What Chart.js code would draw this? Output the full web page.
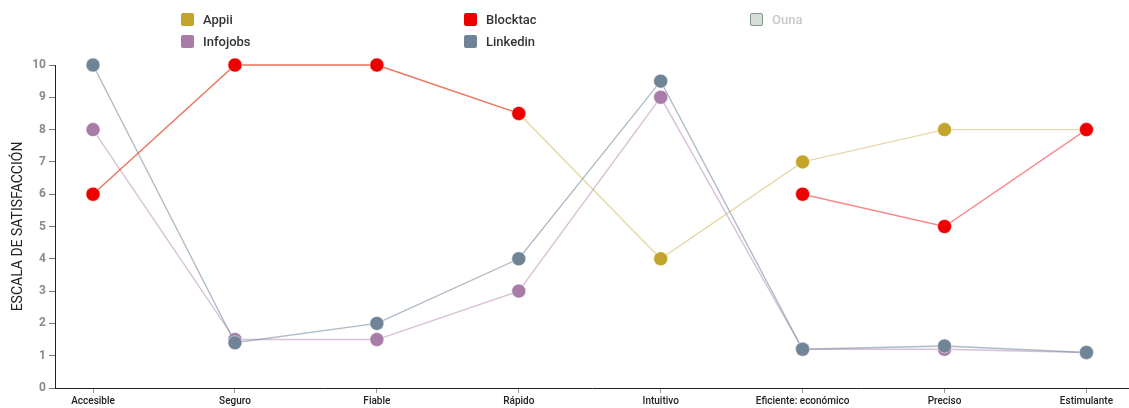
<!DOCTYPE html>
<html>
<head>
<meta charset="utf-8">
<script src="https://cdn.jsdelivr.net/npm/chart.js@4/dist/chart.umd.min.js"></script>
<style>
  html, body { margin: 0; padding: 0; background: #fff; }
  #wrap { position: relative; width: 1129px; height: 408px; }
  #legend {
    position: absolute; left: 181px; top: 12px;
    display: grid; grid-template-columns: 283px 286px 200px; grid-auto-rows: 22px;
    font-family: Roboto, "Open Sans", sans-serif; font-size: 13px; font-weight: 500; color: #333;
  }
  .item { display: flex; align-items: center; height: 14px; }
  .box { width: 13px; height: 13px; border-radius: 2px; margin-right: 9px; box-sizing: border-box; }
  .item.off { color: #c8c8c8; }
</style>
</head>
<body>
<div id="wrap">
  <canvas id="chart" width="1129" height="408"></canvas>
  <div id="legend"></div>
</div>
<script>
// === DATA ===
const categories = ["Accesible", "Seguro", "Fiable", "Rápido", "Intuitivo", "Eficiente: económico", "Preciso", "Estimulante"];
const yTicks = [0, 1, 2, 3, 4, 5, 6, 7, 8, 9, 10];
const appii = [6, 10, 10, 8.5, 4, 7, 8, 8];
const blocktac = [6, 10, 10, 8.5, null, 6, 5, 8];
const infojobs = [8, 1.5, 1.5, 3, 9, 1.2, 1.2, 1.1];
const linkedin = [10, 1.4, 2, 4, 9.5, 1.2, 1.3, 1.1];
const ouna = [];
// legend reads across: first row Appii, Blocktac, Ouna; second row Infojobs, Linkedin
const legendOrder = ["Appii", "Blocktac", "Ouna", "Infojobs", "Linkedin"];

function toPoints(values) {
    return values.map((v, i) => ({ x: i, y: v }));
}

function makeSet(label, values, color, lineColor, order, hidden) {
    return {
        label: label,
        data: toPoints(values),
        borderColor: lineColor,
        backgroundColor: color,
        pointBackgroundColor: color,
        pointBorderColor: "rgba(255,255,255,0.5)",
        pointBorderWidth: 1,
        pointRadius: 7,
        pointHoverRadius: 7,
        borderWidth: 1.4,
        spanGaps: false,
        clip: false,
        order: order,
        hidden: !!hidden
    };
}

const datasets = [
    makeSet("Appii", appii, "#c2a52a", "rgba(205,180,80,0.5)", 1),
    makeSet("Blocktac", blocktac, "#ec0000", "rgba(240,40,45,0.55)", 0),
    makeSet("Infojobs", infojobs, "#a97ba8", "rgba(190,150,190,0.6)", 3),
    makeSet("Linkedin", linkedin, "#6f8497", "rgba(120,140,160,0.6)", 2),
    makeSet("Ouna", ouna, "#d5ddd8", "#7f9a8b", 4, true)
];

// === LEGEND ===
const legendEl = document.getElementById("legend");
legendOrder.forEach(name => {
    const ds = datasets.find(d => d.label === name);
    const item = document.createElement("div");
    item.className = "item" + (ds.hidden ? " off" : "");
    const box = document.createElement("span");
    box.className = "box";
    box.style.background = ds.backgroundColor;
    if (ds.hidden) box.style.border = "1.5px solid " + ds.borderColor;
    item.appendChild(box);
    item.appendChild(document.createTextNode(ds.label));
    legendEl.appendChild(item);
});

// === CHART ===
const font = "Roboto, 'Open Sans', sans-serif";

new Chart(document.getElementById("chart").getContext("2d"), {
    type: "line",
    data: { datasets: datasets },
    options: {
        responsive: false,
        animation: false,
        layout: { autoPadding: false, padding: { top: 65, right: 0, left: 0, bottom: 0 } },
        plugins: {
            legend: { display: false },
            tooltip: { enabled: false }
        },
        scales: {
            x: {
                type: "linear",
                min: -0.268,
                max: 7.30,
                afterBuildTicks: scale => { scale.ticks = categories.map((c, i) => ({ value: i })); },
                afterFit: scale => { scale.height = 20; },
                grid: { display: true, drawOnChartArea: false, drawTicks: true, tickLength: 5, color: "#999" },
                border: { display: true, color: "#222", width: 1 },
                ticks: {
                    autoSkip: false,
                    maxRotation: 0,
                    padding: 2,
                    color: "#222",
                    font: { family: font, size: 10, weight: "500" },
                    callback: v => categories[v]
                }
            },
            y: {
                min: 0,
                max: 10,
                afterBuildTicks: scale => { scale.ticks = yTicks.map(v => ({ value: v })); },
                afterFit: scale => { scale.width = 55; },
                grid: { display: true, drawOnChartArea: false, drawTicks: true, tickLength: 6, color: "#777" },
                border: { display: true, color: "#222", width: 1 },
                title: {
                    display: true,
                    text: "ESCALA DE SATISFACCIÓN",
                    color: "#222",
                    font: { family: font, size: 14, weight: "normal" },
                    padding: { top: 10, bottom: 0 }
                },
                ticks: {
                    padding: 3,
                    color: "#8a8a8a",
                    font: { family: font, size: 12, weight: "bold" }
                }
            }
        }
    }
});
</script>
</body>
</html>
